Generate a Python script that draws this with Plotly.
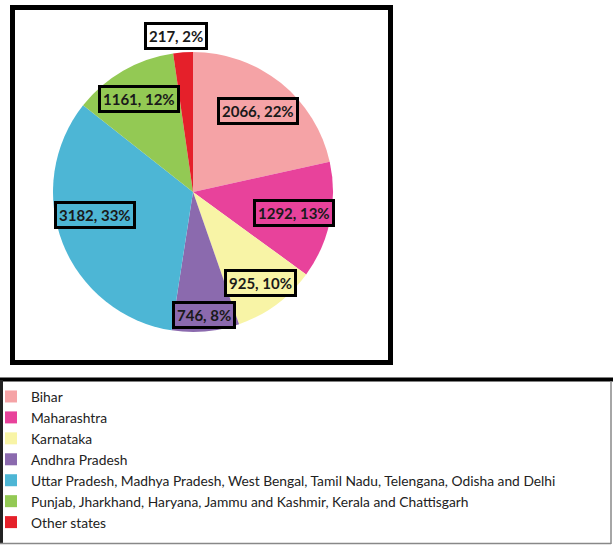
import math
import plotly.graph_objects as go

# ---- data ----
states = [
    "Bihar",
    "Maharashtra",
    "Karnataka",
    "Andhra Pradesh",
    "Uttar Pradesh, Madhya Pradesh, West Bengal, Tamil Nadu, Telengana, Odisha and Delhi",
    "Punjab, Jharkhand, Haryana, Jammu and Kashmir, Kerala and Chattisgarh",
    "Other states",
]
counts = [2066, 1292, 925, 746, 3182, 1161, 217]
colors = ["#F5A3A6", "#E8429B", "#F8F4A6", "#8B6AAE", "#4DB6D5", "#93C954", "#E5202A"]

# ---- layout constants (pixels) ----
W, H = 613, 545
CX, CY, R = 193, 192, 140
label_radius = [0.74, 0.74, 0.81, 0.88, 0.72, 0.77, 1.12]
label_angle_shift = [0, 0, 0, 0, 8, 0, -2]
label_bg = colors[:6] + ["white"]

fig = go.Figure()
fig.add_trace(go.Pie(
    labels=states,
    values=counts,
    marker=dict(colors=colors, line=dict(width=0)),
    sort=False,
    direction="clockwise",
    rotation=0,
    textinfo="none",
    hoverinfo="label+value+percent",
    domain=dict(x=[(CX - R) / W, (CX + R) / W], y=[1 - (CY + R) / H, 1 - (CY - R) / H]),
))

total = sum(counts)
cum = 0
annotations = []
for i, v in enumerate(counts):
    mid = (cum + v / 2) / total * 360 + label_angle_shift[i]
    cum += v
    th = math.radians(mid)
    px = CX + label_radius[i] * R * math.sin(th)
    py = CY - label_radius[i] * R * math.cos(th)
    pct = round(v / total * 100)
    annotations.append(dict(
        x=px / W, y=1 - py / H, xref="paper", yref="paper",
        xanchor="center", yanchor="middle",
        text=f"{v}, {pct}%", showarrow=False,
        font=dict(family="Lato", size=15, color="#1a1a1a", weight="bold"),
        bgcolor=label_bg[i], bordercolor="black", borderwidth=3, borderpad=2,
    ))

shapes = [
    # pie frame
    dict(type="rect", xref="paper", yref="paper",
         x0=12.5 / W, x1=390.5 / W, y0=1 - 362.5 / H, y1=1 - 7.5 / H,
         line=dict(color="black", width=5), layer="above"),
    # legend frame
    dict(type="line", xref="paper", yref="paper", x0=0, x1=1, y0=1 - 379.5 / H, y1=1 - 379.5 / H,
         line=dict(color="black", width=4)),
    dict(type="line", xref="paper", yref="paper", x0=1.5 / W, x1=1.5 / W, y0=1 - 380 / H, y1=1 - 544 / H,
         line=dict(color="#222", width=3)),
    dict(type="line", xref="paper", yref="paper", x0=0, x1=611 / W, y0=1 - 543.5 / H, y1=1 - 543.5 / H,
         line=dict(color="#888", width=1.5)),
    dict(type="line", xref="paper", yref="paper", x0=611 / W, x1=611 / W, y0=1 - 381 / H, y1=1 - 544 / H,
         line=dict(color="#888", width=1.5)),
]

fig.update_layout(
    width=W, height=H,
    margin=dict(l=0, r=0, t=0, b=0, autoexpand=False),
    paper_bgcolor="white", plot_bgcolor="white",
    annotations=annotations,
    shapes=shapes,
    showlegend=True,
    legend=dict(
        x=-9 / W, y=1 - 381 / H, xanchor="left", yanchor="top",
        font=dict(family="Lato", size=13.8, color="#222"),
        traceorder="normal", bgcolor="rgba(0,0,0,0)",
        itemclick=False, itemdoubleclick=False,
    ),
)

fig.write_html("out.html")
